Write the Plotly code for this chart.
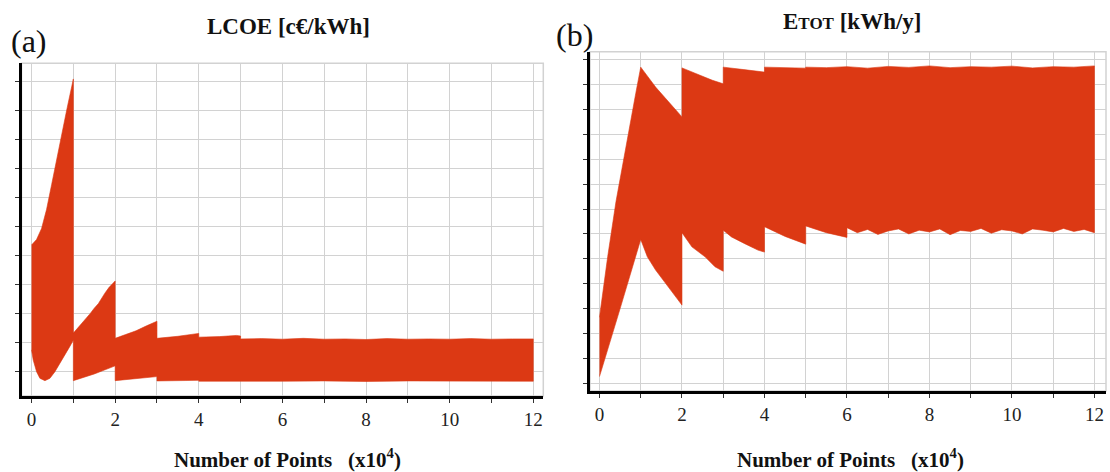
import plotly.graph_objects as go

# ---------------- data ----------------
# Panel (a): LCOE [c€/kWh] -- upper / lower envelopes of the oscillating series
a_up_x = [0, 0.06, 0.12, 0.24, 0.36, 0.48, 0.6, 0.72, 0.84, 0.96, 1.0,
          1.0, 1.1, 1.25, 1.4, 1.5, 1.6, 1.75, 1.85, 2.0,
          2.0, 2.25, 2.5, 2.75, 3.0,
          3.0, 3.5, 4.0,
          4.0, 4.5, 4.9, 5.0,
          5.0, 5.5, 6.0, 6.5, 7.0, 7.5, 8.0, 8.5, 9.0, 9.5, 10.0, 10.5, 11.0, 11.5, 12.0]
a_up_y = [14.37, 14.45, 14.56, 14.94, 15.6, 16.45, 17.35, 18.2, 19.02, 19.83, 20.1,
          11.33, 11.5, 11.72, 12.0, 12.19, 12.35, 12.7, 12.9, 13.13,
          11.15, 11.28, 11.41, 11.58, 11.74,
          11.15, 11.22, 11.32,
          11.19, 11.21, 11.25, 11.23,
          11.13, 11.14, 11.12, 11.15, 11.12, 11.13, 11.11, 11.14, 11.12, 11.13, 11.12, 11.14, 11.12, 11.13, 11.13]
a_lo_x = [0, 0.04, 0.12, 0.2, 0.32, 0.44, 0.56, 0.68, 0.8, 0.92, 1.0,
          1.0, 1.5, 2.0,
          2.0, 2.5, 3.0,
          3.0, 4.0,
          4.0, 5.0, 6.0, 7.0, 8.0, 9.0, 10.0, 11.0, 12.0]
a_lo_y = [10.75, 10.40, 10.0, 9.77, 9.69, 9.77, 10.0, 10.26, 10.57, 10.88, 11.09,
          9.69, 9.92, 10.2,
          9.69, 9.76, 9.83,
          9.68, 9.70,
          9.67, 9.68, 9.67, 9.68, 9.66, 9.68, 9.67, 9.68, 9.67]

# Panel (b): Etot [kWh/y] -- upper / lower envelopes
b_up_x = [0, 0.2, 0.4, 0.64, 0.88, 1.0, 1.36, 1.68, 1.88, 2.0,
          2.0, 2.74, 3.0,
          3.0, 3.5, 3.84, 4.0,
          4.0, 4.5, 5.0,
          5.0, 5.5, 6.0, 6.5, 7.0, 7.5, 8.0, 8.5, 9.0, 9.5, 10.0, 10.5, 11.0, 11.5, 12.0]
b_up_y = [1265, 1510, 1730, 1955, 2165, 2270, 2190, 2130, 2090, 2070,
          2267, 2217, 2203,
          2270, 2260, 2254, 2250,
          2270, 2268, 2266,
          2270, 2268, 2272, 2266, 2273, 2269, 2275, 2268, 2272, 2270, 2274, 2267, 2272, 2270, 2275]
b_lo_x = [0, 0.5, 1.0, 1.16, 1.36, 1.6, 1.84, 2.0,
          2.0, 2.24, 2.56, 2.8, 3.0,
          3.0, 3.2, 3.52, 3.84, 4.0,
          4.0, 4.5, 5.0,
          5.0, 5.5, 6.0,
          6.0, 6.25, 6.5, 6.75, 7.0, 7.25, 7.5, 7.75, 8.0, 8.25, 8.5, 8.75, 9.0,
          9.25, 9.5, 9.75, 10.0, 10.25, 10.5, 10.75, 11.0, 11.25, 11.5, 11.75, 12.0]
b_lo_y = [1027, 1300, 1578, 1508, 1455, 1401, 1348, 1314,
          1605, 1548, 1508, 1468, 1450,
          1615, 1588, 1561, 1535, 1527,
          1629, 1590, 1559,
          1632, 1605, 1586,
          1625, 1605, 1618, 1598, 1612, 1620, 1600, 1615, 1608, 1620, 1597, 1614, 1610,
          1622, 1603, 1617, 1612, 1600, 1620, 1615, 1608, 1622, 1610, 1618, 1605]

x_ticks = [0, 2, 4, 6, 8, 10, 12]

# ---------------- styling ----------------
RED = '#DC3914'
GRID = '#D2D2D2'
SERIF = 'Liberation Serif'

fig = go.Figure()
fig.add_trace(go.Scatter(x=a_up_x + a_lo_x[::-1], y=a_up_y + a_lo_y[::-1],
                         mode='lines', fill='toself', fillcolor=RED,
                         line=dict(color=RED, width=0.6),
                         xaxis='x', yaxis='y', hoverinfo='skip', showlegend=False))
fig.add_trace(go.Scatter(x=b_up_x + b_lo_x[::-1], y=b_up_y + b_lo_y[::-1],
                         mode='lines', fill='toself', fillcolor=RED,
                         line=dict(color=RED, width=0.6),
                         xaxis='x2', yaxis='y2', hoverinfo='skip', showlegend=False))


def xax(domain, rng, anchor):
    return dict(domain=domain, range=rng, anchor=anchor,
                tickmode='array', tickvals=x_ticks,
                ticks='outside', ticklen=4, tickwidth=1, tickcolor='#333',
                showline=True, linecolor='black', linewidth=3,
                showgrid=True, gridcolor=GRID, gridwidth=1, zeroline=False,
                tickfont=dict(family=SERIF, size=19, color='#222'),
                ticklabelstandoff=0,
                minor=dict(dtick=1, tick0=0, ticks='outside', ticklen=4,
                           tickcolor='#333', showgrid=True, gridcolor=GRID, gridwidth=1))


def yax(domain, rng, tick0, dtick, anchor):
    return dict(domain=domain, range=rng, anchor=anchor, tick0=tick0, dtick=dtick,
                ticks='outside', ticklen=4, tickwidth=1, tickcolor='#333',
                showticklabels=False, showline=True, linecolor='black', linewidth=3,
                showgrid=True, gridcolor=GRID, gridwidth=1, zeroline=False)


W, H = 1110, 472
fig.update_layout(
    width=W, height=H, margin=dict(l=0, r=0, t=0, b=0),
    paper_bgcolor='white', plot_bgcolor='white',
    xaxis=xax([21.5 / W, 543.3 / W], [-0.24, 12.24], 'y'),
    yaxis=yax([1 - 396 / H, 1 - 63.3 / H], [9.16, 20.64], 10, 1, 'x'),
    xaxis2=xax([590 / W, 1106 / W], [-0.23, 12.28], 'y2'),
    yaxis2=yax([1 - 391 / H, 1 - 51.7 / H], [969, 2332], 1000, 100, 'x2'),
)

# gray frame (top / right borders)
for xr, yr in (('x domain', 'y domain'), ('x2 domain', 'y2 domain')):
    fig.add_shape(type='rect', xref=xr, yref=yr, x0=0, x1=1, y0=0, y1=1,
                  line=dict(color=GRID, width=1.5), layer='below')

ann = [
    dict(text='<b>LCOE [c€/kWh]</b>', x=288 / W, y=1 - 27 / H, size=23),
    dict(text="<b>E<span style='font-size:17px'>TOT</span> [kWh/y]</b>", x=852 / W, y=1 - 22 / H, size=23),
    dict(text='(a)', x=28.5 / W, y=1 - 41 / H, size=32),
    dict(text='(b)', x=574 / W, y=1 - 35 / H, size=32),
    dict(text='<b>Number of Points&nbsp;&nbsp;&nbsp;(x10<sup>4</sup>)</b>', x=287 / W, y=1 - 458 / H, size=21),
    dict(text='<b>Number of Points&nbsp;&nbsp;&nbsp;(x10<sup>4</sup>)</b>', x=850 / W, y=1 - 458 / H, size=21),
]
for a in ann:
    fig.add_annotation(text=a['text'], x=a['x'], y=a['y'], xref='paper', yref='paper',
                       xanchor='center', yanchor='middle', showarrow=False,
                       font=dict(family=SERIF, size=a['size'], color='#111'))

fig.write_html('out.html', config={'displayModeBar': False},
               post_script="document.body.style.margin='0';document.body.style.padding='0';")
